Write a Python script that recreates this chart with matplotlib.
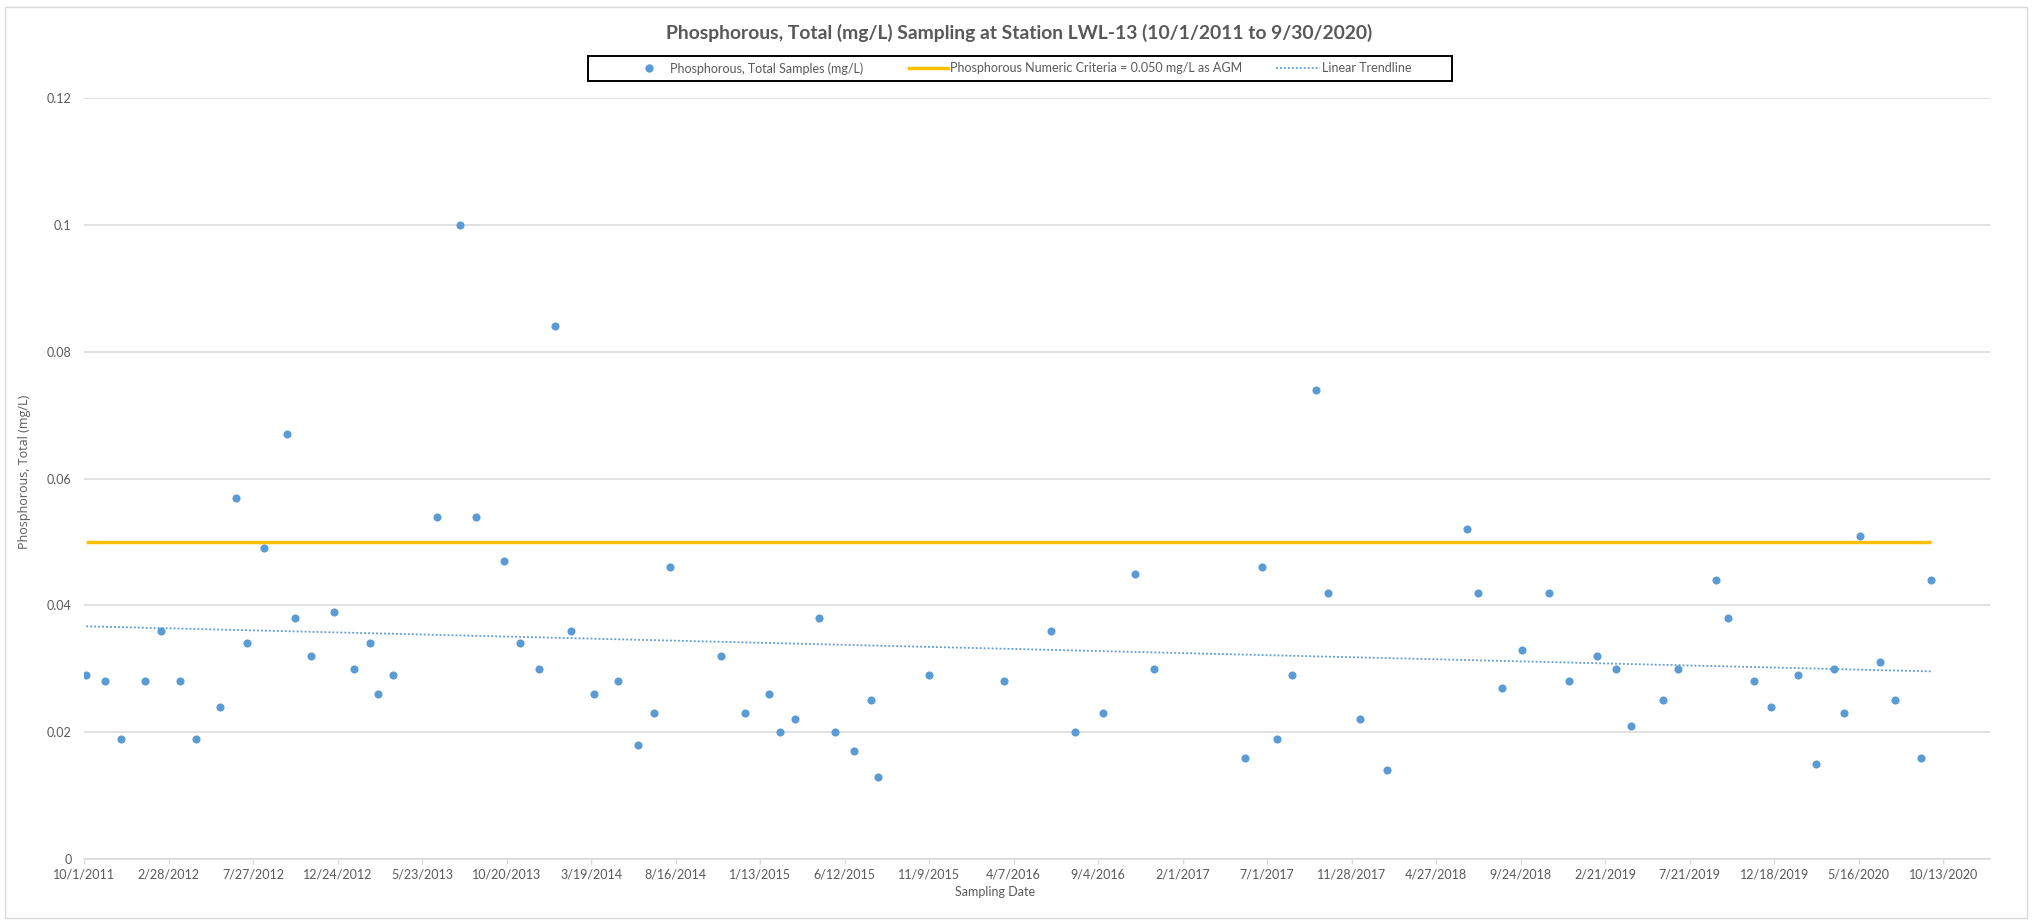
import numpy as np
import pandas as pd
import matplotlib
matplotlib.use('Agg')
import matplotlib.pyplot as plt
import matplotlib.dates as mdates
from matplotlib.patches import Rectangle
from matplotlib.lines import Line2D
from matplotlib.ticker import FuncFormatter, FixedLocator

# sample dates and values
sample_dates = [
    '2011-10-05', '2011-11-07', '2011-12-06', '2012-01-17', '2012-02-14', '2012-03-19',
    '2012-04-16', '2012-05-29', '2012-06-26', '2012-07-16', '2012-08-15', '2012-09-25',
    '2012-10-09', '2012-11-07', '2012-12-18', '2013-01-22', '2013-02-19', '2013-03-05',
    '2013-04-02', '2013-06-19', '2013-07-29', '2013-08-27', '2013-10-16', '2013-11-12',
    '2013-12-17', '2014-01-14', '2014-02-11', '2014-03-25', '2014-05-06', '2014-06-10',
    '2014-07-08', '2014-08-06', '2014-11-04', '2014-12-17', '2015-01-28', '2015-02-17',
    '2015-03-16', '2015-04-28', '2015-05-26', '2015-06-29', '2015-07-28', '2015-08-10',
    '2015-11-09', '2016-03-21', '2016-06-13', '2016-07-25', '2016-09-13', '2016-11-08',
    '2016-12-13', '2017-05-22', '2017-06-21', '2017-07-18', '2017-08-14', '2017-09-25',
    '2017-10-17', '2017-12-12', '2018-01-30', '2018-06-20', '2018-07-11', '2018-08-22',
    '2018-09-26', '2018-11-14', '2018-12-18', '2019-02-06', '2019-03-13', '2019-04-08',
    '2019-06-04', '2019-07-01', '2019-09-05', '2019-09-27', '2019-11-13', '2019-12-12',
    '2020-01-29', '2020-03-01', '2020-04-02', '2020-04-20', '2020-05-18', '2020-06-22',
    '2020-07-20', '2020-09-03', '2020-09-21',
]
phosphorous = [
    0.029, 0.028, 0.019, 0.028, 0.036, 0.028,
    0.019, 0.024, 0.057, 0.034, 0.049, 0.067,
    0.038, 0.032, 0.039, 0.030, 0.034, 0.026,
    0.029, 0.054, 0.100, 0.054, 0.047, 0.034,
    0.030, 0.084, 0.036, 0.026, 0.028, 0.018,
    0.023, 0.046, 0.032, 0.023, 0.026, 0.020,
    0.022, 0.038, 0.020, 0.017, 0.025, 0.013,
    0.029, 0.028, 0.036, 0.020, 0.023, 0.045,
    0.030, 0.016, 0.046, 0.019, 0.029, 0.074,
    0.042, 0.022, 0.014, 0.052, 0.042, 0.027,
    0.033, 0.042, 0.028, 0.032, 0.030, 0.021,
    0.025, 0.030, 0.044, 0.038, 0.028, 0.024,
    0.029, 0.015, 0.030, 0.023, 0.051, 0.031,
    0.025, 0.016, 0.044,
]
criteria = 0.050

axis_start = pd.Timestamp('2011-10-01')
tick_step_days = 150
n_ticks = 23
axis_end_days = 3383

dates = pd.to_datetime(sample_dates)
x = mdates.date2num(dates)

TXT = '#595959'
BLUE = '#5B9BD5'
GOLD = '#FFC000'
GRID = '#D9D9D9'
FONT = 'Lato'
W, H = 2032, 923

fig = plt.figure(figsize=(W / 100, H / 100), dpi=100)
ax = fig.add_axes([84 / W, 1 - 859 / H, (1990 - 84) / W, (859 - 98) / H])

# samples
ax.scatter(x, phosphorous, s=34, color=BLUE, zorder=4, linewidths=0)

# numeric criteria line across the sampling period
ax.plot([x[0], x[-1]], [criteria, criteria], color=GOLD, lw=2.5, zorder=3,
        solid_capstyle='butt')

# linear trendline
coef = np.polyfit(x, phosphorous, 1)
tx = np.array([x[0], x[-1]])
ax.plot(tx, np.polyval(coef, tx), color=BLUE, lw=1.3, ls=(0, (1, 1.2)), zorder=3)

x0 = mdates.date2num(axis_start)
ax.set_xlim(x0, x0 + axis_end_days)
ax.set_ylim(0, 0.12)

xticks = [x0 + tick_step_days * k for k in range(n_ticks)]
ax.xaxis.set_major_locator(FixedLocator(xticks))
ax.xaxis.set_major_formatter(FuncFormatter(
    lambda v, p: '{d.month}/{d.day}/{d.year}'.format(d=mdates.num2date(v))))
ax.set_yticks(np.arange(0, 0.121, 0.02))
ax.yaxis.set_major_formatter(FuncFormatter(lambda v, p: '%g' % round(v, 3)))

ax.grid(axis='y', color=GRID, lw=1.1)
ax.set_axisbelow(True)
for s in ['top', 'right', 'left']:
    ax.spines[s].set_visible(False)
ax.spines['bottom'].set_color(GRID)
ax.spines['bottom'].set_linewidth(1.1)
ax.tick_params(axis='x', length=3.5, width=1, color=GRID, pad=3.5,
               labelsize=9, labelcolor=TXT)
ax.tick_params(axis='y', length=0, pad=9, labelsize=9, labelcolor=TXT)
for lab in ax.get_xticklabels() + ax.get_yticklabels():
    lab.set_fontfamily(FONT)

fig.text(1019 / W, 1 - 33 / H,
         'Phosphorous, Total (mg/L) Sampling at Station LWL-13 (10/1/2011 to 9/30/2020)',
         ha='center', va='center', fontsize=13.9, fontweight='bold', color=TXT, family=FONT)
fig.text(995 / W, 1 - 892 / H, 'Sampling Date', ha='center', va='center',
         fontsize=9, color=TXT, family=FONT)
fig.text(25 / W, 1 - 472 / H, 'Phosphorous, Total (mg/L)', ha='center', va='center',
         rotation=90, fontsize=9, color=TXT, family='Open Sans')

# legend: one entry per column, placed like the Excel legend, inside a black frame
handles = [
    Line2D([], [], ls='none', marker='o', ms=6, color=BLUE, mew=0),
    Line2D([], [], color=GOLD, lw=2.5),
    Line2D([], [], color=BLUE, lw=1.3, ls=(0, (1, 1.2))),
]
labels = ['Phosphorous, Total Samples (mg/L)',
          'Phosphorous Numeric Criteria = 0.050 mg/L as AGM',
          'Linear Trendline']
starts = [629, 909, 1276]
hlens = [3.12, 3.12, 3.5]
for h, lab, sx, hl in zip(handles, labels, starts, hlens):
    fig.legend([h], [lab], loc='center left', bbox_to_anchor=(sx / W, 1 - 68.5 / H),
               frameon=False, borderpad=0, borderaxespad=0, handlelength=hl,
               handletextpad=0.15, prop={'family': FONT, 'size': 9}, labelcolor=TXT)
fig.patches.append(Rectangle((588 / W, 1 - 81 / H), (1452 - 588) / W, 25 / H,
                             transform=fig.transFigure, fill=False, ec='black', lw=1.4))

# chart area border
fig.patches.append(Rectangle((5 / W, 5 / H), 2022 / W, 911 / H,
                             transform=fig.transFigure, fill=False, ec=GRID, lw=1))

fig.savefig('out.png', dpi=100, facecolor='white')
